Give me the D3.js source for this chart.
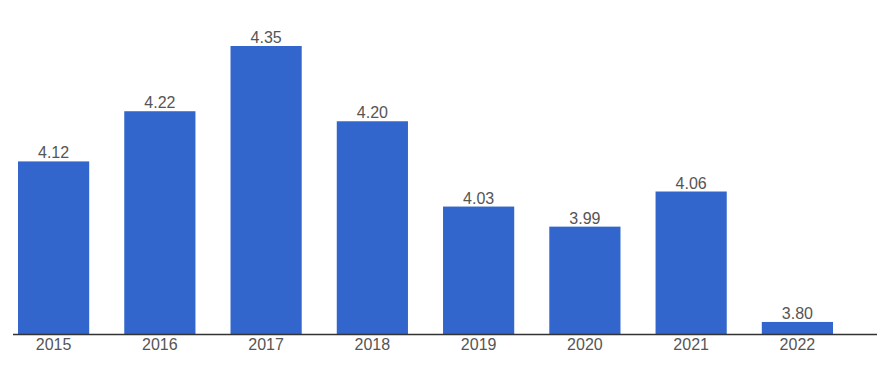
<!DOCTYPE html>
<html lang="en">
<head>
    <meta charset="UTF-8">
    <title>Yearly values 2015-2022</title>
    <script src="https://cdnjs.cloudflare.com/ajax/libs/d3/7.8.5/d3.min.js"></script>
    <style>
        body {
            margin: 0;
            padding: 0;
            background-color: #fff;
        }
        .bar-label, .tick text {
            font-family: "Liberation Sans", Arial, sans-serif;
            font-size: 16px;
            fill: #555;
        }
    </style>
</head>
<body>
    <div id="chart"></div>
    <script>
        const years = ["2015", "2016", "2017", "2018", "2019", "2020", "2021", "2022"];
        const values = [4.12, 4.22, 4.35, 4.20, 4.03, 3.99, 4.06, 3.80];

        const width = 895, height = 375;
        const baseY = 334;

        const svg = d3.select("#chart").append("svg")
            .attr("width", width)
            .attr("height", height);

        const x = d3.scaleBand()
            .domain(years)
            .range([18, 833])
            .paddingInner(0.33)
            .paddingOuter(0);

        // axis does not start at zero
        const y = d3.scaleLinear()
            .domain([3.776, 4.35])
            .range([baseY, 46]);

        svg.selectAll(".bar")
            .data(years)
            .enter().append("rect")
            .attr("class", "bar")
            .attr("x", d => x(d))
            .attr("width", x.bandwidth())
            .attr("y", (d, i) => y(values[i]))
            .attr("height", (d, i) => baseY - y(values[i]))
            .attr("fill", "#3366cc");

        svg.selectAll(".bar-label")
            .data(years)
            .enter().append("text")
            .attr("class", "bar-label")
            .attr("x", d => x(d) + x.bandwidth() / 2)
            .attr("y", (d, i) => y(values[i]) - 3)
            .attr("text-anchor", "middle")
            .text((d, i) => values[i].toFixed(2));

        const xAxis = svg.append("g")
            .attr("transform", `translate(0,${baseY})`)
            .call(d3.axisBottom(x).tickSize(0).tickPadding(3));
        xAxis.select(".domain").remove();
        xAxis.selectAll(".tick text")
            .attr("dy", "0.8em");

        svg.append("line")
            .attr("x1", 13)
            .attr("x2", 877)
            .attr("y1", baseY + 0.5)
            .attr("y2", baseY + 0.5)
            .attr("stroke", "#333")
            .attr("stroke-width", 1.3);
    </script>
</body>
</html>
